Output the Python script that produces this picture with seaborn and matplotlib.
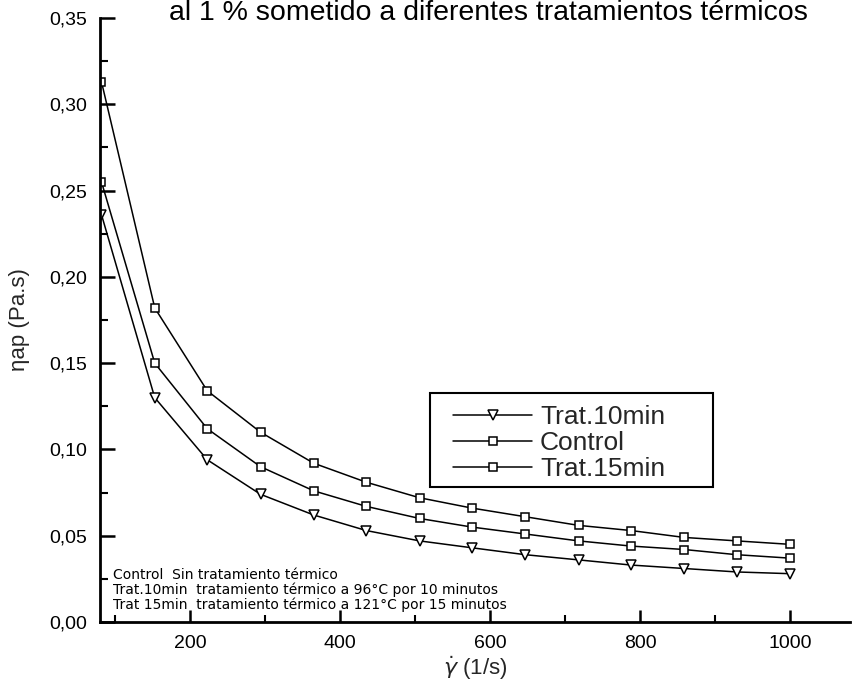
import matplotlib
matplotlib.use("Agg")
import matplotlib.pyplot as plt
import seaborn as sns
from matplotlib.ticker import MultipleLocator, FuncFormatter
from matplotlib.patches import Rectangle

shear_rate = [82, 153, 223, 294, 365, 435, 506, 576, 647, 718, 788, 859, 929, 1000]
trat10 = [0.236, 0.130, 0.094, 0.074, 0.062, 0.053, 0.047, 0.043, 0.039, 0.036, 0.033, 0.031, 0.029, 0.028]
control = [0.255, 0.150, 0.112, 0.090, 0.076, 0.067, 0.060, 0.055, 0.051, 0.047, 0.044, 0.042, 0.039, 0.037]
trat15 = [0.313, 0.182, 0.134, 0.110, 0.092, 0.081, 0.072, 0.066, 0.061, 0.056, 0.053, 0.049, 0.047, 0.045]
series_labels = ["Trat.10min", "Control", "Trat.15min"]
series_markers = ["v", "s", "s"]
title_text = "al 1 % sometido a diferentes tratamientos térmicos"
notes = ["Control  Sin tratamiento térmico",
         "Trat.10min  tratamiento térmico a 96°C por 10 minutos",
         "Trat 15min  tratamiento térmico a 121°C por 15 minutos"]

sns.set_style("ticks")
plt.rcParams["font.family"] = ["Liberation Sans", "DejaVu Sans"]

W, H = 853, 685
fig = plt.figure(figsize=(W/100, H/100), dpi=100)
ax_l, ax_r, ax_t, ax_b = 100, 850, 18, 622
ax = fig.add_axes([ax_l/W, 1-ax_b/H, (ax_r-ax_l)/W, (ax_b-ax_t)/H])

for vals, lab, mk in zip([trat10, control, trat15], series_labels, series_markers):
    sns.lineplot(x=shear_rate, y=vals, ax=ax, color="black", linewidth=1.1,
                 marker=mk, markersize=6.5 if mk == "v" else 5.5,
                 markerfacecolor="white", markeredgecolor="black",
                 markeredgewidth=1.1, label=lab)

ax.set_xlim(80, 1080)
ax.set_ylim(0, 0.35)
ax.xaxis.set_major_locator(MultipleLocator(200))
ax.xaxis.set_minor_locator(MultipleLocator(100))
ax.yaxis.set_major_locator(MultipleLocator(0.05))
ax.yaxis.set_minor_locator(MultipleLocator(0.025))
ax.yaxis.set_major_formatter(FuncFormatter(lambda v, p: f"{v:.2f}".replace(".", ",")))
ax.xaxis.set_major_formatter(FuncFormatter(lambda v, p: "" if v < 150 else f"{v:.0f}"))

for s in ["top", "right"]:
    ax.spines[s].set_visible(False)
for s in ["left", "bottom"]:
    ax.spines[s].set_linewidth(2)
    ax.spines[s].set_color("black")

ax.tick_params(axis="both", which="major", direction="in", length=11, width=1.8,
               labelsize=14, colors="black", pad=9)
ax.tick_params(axis="both", which="minor", direction="in", length=6, width=1.5, colors="black")
ax.tick_params(axis="x", which="major", length=9)
ax.tick_params(axis="x", which="minor", length=5)

ax.set_xlabel("$\\dot{\\gamma}$ (1/s)", fontsize=16, labelpad=2)
ax.set_ylabel("ηap (Pa.s)", fontsize=16, labelpad=14)

def fx(px):
    return (px - ax_l) / (ax_r - ax_l)

def fy(py):
    return (ax_b - py) / (ax_b - ax_t)

leg = ax.legend(loc="center left", bbox_to_anchor=(fx(453), fy(443)), fontsize=19,
                frameon=False, handlelength=3.0, handletextpad=0.3,
                borderpad=0, labelspacing=0.08, numpoints=1, borderaxespad=0)
ax.add_patch(Rectangle((fx(430), fy(487)), fx(713) - fx(430), fy(393) - fy(487),
                       transform=ax.transAxes, fill=False, edgecolor="black",
                       linewidth=1.5, zorder=5, clip_on=False))

for i, t in enumerate(notes):
    fig.text(113/W, 1 - (575 + 15*i)/H, t, fontsize=10, family="DejaVu Sans",
             ha="left", va="center", color="black")

fig.text(488/W, 1.0, title_text, fontsize=20.5, ha="center", va="top", color="black")

fig.savefig("out.png", dpi=100)
